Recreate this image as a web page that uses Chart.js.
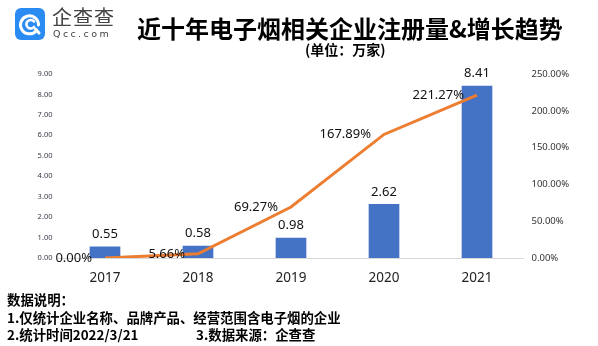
<!DOCTYPE html>
<html>
<head>
<meta charset="utf-8">
<script src="https://cdn.jsdelivr.net/npm/chart.js@4/dist/chart.umd.min.js"></script>
<style>
  html, body { margin: 0; padding: 0; background: #fff; }
  #wrap { position: relative; width: 598px; height: 346px; overflow: hidden; font-family: "Noto Sans CJK SC", "Noto Sans", sans-serif; }
  #chart { position: absolute; left: 0; top: 0; }
  .logo-box { position: absolute; left: 15px; top: 8px; width: 30px; height: 32px; border-radius: 6px; background: #2A8BF2; }
  .logo-cn { position: absolute; left: 52px; top: 5px; font-size: 20px; line-height: 24px; color: #444; letter-spacing: 1px; }
  .logo-en { position: absolute; left: 53px; top: 28px; font-family: "DejaVu Sans", sans-serif; font-size: 9.5px; line-height: 12px; color: #444; letter-spacing: 2.4px; }
  .title { position: absolute; left: 137px; top: 13px; font-size: 24px; line-height: 30px; font-weight: 700; color: #000; white-space: nowrap; }
  .unit { position: absolute; left: 305px; top: 40px; font-size: 14px; line-height: 18px; font-weight: 700; color: #000; white-space: nowrap; }
  .note { position: absolute; left: 7px; font-size: 13.4px; line-height: 18px; font-weight: 700; color: #000; white-space: nowrap; }
</style>
</head>
<body>
<div id="wrap">
  <canvas id="chart" width="598" height="346"></canvas>
  <div class="logo-box">
    <svg width="30" height="32" viewBox="0 0 30 32">
      <path d="M21.5 22.5 A9 9 0 1 1 23.5 17" fill="none" stroke="#fff" stroke-width="3" stroke-linecap="round"/>
      <path d="M19 13.5 A4.3 4.3 0 1 0 19 19" fill="none" stroke="#fff" stroke-width="2.6" stroke-linecap="round"/>
      <path d="M20.5 21 L24 25" stroke="#fff" stroke-width="3" stroke-linecap="round"/>
    </svg>
  </div>
  <div class="logo-cn">企查查</div>
  <div class="logo-en">Qcc.com</div>
  <div class="title">近十年电子烟相关企业注册量&amp;增长趋势</div>
  <div class="unit">(单位：万家)</div>
  <div class="note" style="top:290px">数据说明：</div>
  <div class="note" style="top:308px">1.仅统计企业名称、品牌产品、经营范围含电子烟的企业</div>
  <div class="note" style="top:325px">2.统计时间2022/3/21</div>
  <div class="note" style="top:325px; left:196px">3.数据来源：企查查</div>
</div>
<script>
'use strict';

// datos
const YEARS = ['2017', '2018', '2019', '2020', '2021'];
const REGISTRATIONS = [0.55, 0.58, 0.98, 2.62, 8.41];      // 万家
const GROWTH_PCT = [0.00, 5.66, 69.27, 167.89, 221.27];     // %

const BAR_COLOR = '#4472C4';
const LINE_COLOR = '#ED7D31';
const NUM_FONT = '"Noto Sans", sans-serif';

// etiquetas de valor dibujadas a partir de las posiciones de los elementos
const valueLabels = {
  id: 'valueLabels',
  afterDatasetsDraw(chart) {
    const ctx = chart.ctx;
    ctx.save();
    ctx.fillStyle = '#111';
    ctx.font = '13px ' + NUM_FONT;
    chart.getDatasetMeta(0).data.forEach((el, i) => {
      ctx.textAlign = 'center';
      ctx.textBaseline = 'bottom';
      ctx.fillText(REGISTRATIONS[i].toFixed(2), el.x, el.y - 6);
    });
    chart.getDatasetMeta(1).data.forEach((el, i) => {
      ctx.textAlign = 'right';
      ctx.textBaseline = 'middle';
      ctx.fillText(GROWTH_PCT[i].toFixed(2) + '%', el.x - 13, el.y);
    });
    ctx.restore();
  },
};

new Chart(document.getElementById('chart'), {
  type: 'bar',
  data: {
    labels: YEARS,
    datasets: [
      {
        label: '注册量',
        data: REGISTRATIONS,
        backgroundColor: BAR_COLOR,
        barThickness: 30,
        yAxisID: 'y',
        order: 1,
      },
      {
        type: 'line',
        label: '增长率',
        data: GROWTH_PCT,
        borderColor: LINE_COLOR,
        borderWidth: 3,
        pointRadius: 0,
        tension: 0,
        yAxisID: 'y1',
        order: 0,
      },
    ],
  },
  options: {
    responsive: false,
    animation: false,
    layout: { padding: { top: 74, bottom: 64, left: 0, right: 0 } },
    plugins: { legend: { display: false }, tooltip: { enabled: false } },
    scales: {
      x: {
        grid: { display: false },
        border: { display: true, color: '#D9D9D9', width: 1 },
        ticks: { color: '#222', font: { family: NUM_FONT, size: 13.5 }, padding: 4 },
        afterFit: (s) => { s.height = 24; },
      },
      y: {
        position: 'left',
        min: 0,
        max: 9,
        grid: { display: false, drawTicks: false },
        border: { display: false },
        ticks: { stepSize: 1, padding: 6, color: '#3a3a4a', font: { family: NUM_FONT, size: 7.5 }, callback: (v) => v.toFixed(2) },
        afterFit: (s) => { s.width = 58.5; },
      },
      y1: {
        position: 'right',
        min: 0,
        max: 250,
        grid: { display: false, drawTicks: false },
        border: { display: false },
        ticks: { stepSize: 50, padding: 8, color: '#333', font: { family: NUM_FONT, size: 9.5 }, callback: (v) => v.toFixed(2) + '%' },
        afterFit: (s) => { s.width = 74.5; },
      },
    },
  },
  plugins: [valueLabels],
});
</script>
</body>
</html>
